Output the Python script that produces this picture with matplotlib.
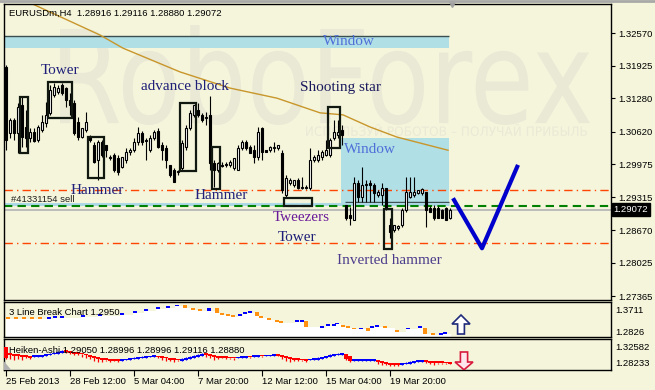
import numpy as np
import matplotlib
matplotlib.use('Agg')
import matplotlib.pyplot as plt
from matplotlib.patches import Rectangle, Polygon, PathPatch
from matplotlib.textpath import TextPath
from matplotlib.font_manager import FontProperties
from matplotlib.transforms import Affine2D, blended_transform_factory
from matplotlib.lines import Line2D

BG = '#F5F5DC'
UI_FONT = 'Liberation Sans'
SERIF = 'Liberation Serif'

# EURUSDm H4 candles
opens = [1.3190, 1.3059, 1.3085, 1.3059, 1.3115, 1.3071, 1.3049, 1.3061,
         1.3045, 1.3065, 1.3079, 1.3099, 1.3134, 1.3140, 1.3154, 1.3148,
         1.3124, 1.3118, 1.3081, 1.3051, 1.3065, 1.3051, 1.3035, 1.3006,
         1.3041, 1.3035, 1.3010, 1.3016, 1.3010, 1.2992, 1.3006, 1.3022,
         1.3025, 1.3041, 1.3059, 1.3045, 1.3025, 1.3049, 1.3063, 1.3035,
         1.3029, 1.2996, 1.2986, 1.2982, 1.2990, 1.3031, 1.3069, 1.3095,
         1.3105, 1.3095, 1.3089, 1.3095, 1.3000, 1.2986, 1.2996, 1.2998,
         1.2996, 1.2990, 1.2986, 1.3029, 1.3041, 1.3031, 1.3025, 1.3012,
         1.3069, 1.3025, 1.3025, 1.3029, 1.3029, 1.3020, 1.2936, 1.2960,
         1.2956, 1.2966, 1.2950, 1.2950, 1.2950, 1.3006, 1.3006, 1.3012,
         1.3016, 1.3016, 1.3049, 1.3055, 1.3065, 1.2917, 1.2897, 1.2887,
         1.2960, 1.2932, 1.2956, 1.2960, 1.2956, 1.2936, 1.2936, 1.2950,
         1.2877, 1.2867, 1.2871, 1.2877, 1.2907, 1.2932, 1.2936, 1.2940,
         1.2940, 1.2942, 1.2911, 1.2911, 1.2911, 1.2907, 1.2911, 1.28916]
highs = [1.3194, 1.3089, 1.3089, 1.3118, 1.3130, 1.3105, 1.3069, 1.3069,
         1.3075, 1.3095, 1.3120, 1.3154, 1.3158, 1.3154, 1.3158, 1.3150,
         1.3138, 1.3124, 1.3091, 1.3069, 1.3101, 1.3055, 1.3041, 1.3045,
         1.3045, 1.3035, 1.3016, 1.3020, 1.3016, 1.3012, 1.3029, 1.3029,
         1.3049, 1.3071, 1.3063, 1.3049, 1.3055, 1.3065, 1.3069, 1.3041,
         1.3035, 1.2996, 1.2990, 1.2986, 1.3045, 1.3075, 1.3105, 1.3115,
         1.3118, 1.3099, 1.3101, 1.3132, 1.3006, 1.3002, 1.3002, 1.3002,
         1.3006, 1.3010, 1.3035, 1.3045, 1.3045, 1.3035, 1.3035, 1.3071,
         1.3071, 1.3025, 1.3033, 1.3041, 1.3035, 1.3025, 1.2976, 1.2970,
         1.2966, 1.2970, 1.2972, 1.2956, 1.3029, 1.3016, 1.3025, 1.3025,
         1.3045, 1.3049, 1.3085, 1.3085, 1.3075, 1.2917, 1.2913, 1.2972,
         1.2966, 1.2992, 1.2966, 1.2966, 1.2960, 1.2946, 1.2960, 1.2950,
         1.2891, 1.2877, 1.2877, 1.2911, 1.2972, 1.2972, 1.2972, 1.2946,
         1.2950, 1.2942, 1.2915, 1.2917, 1.2915, 1.2909, 1.2913, 1.29116]
lows = [1.3025, 1.3049, 1.3045, 1.3020, 1.3031, 1.3031, 1.3041, 1.3041,
        1.3041, 1.3061, 1.3071, 1.3095, 1.3130, 1.3136, 1.3134, 1.3111,
        1.3095, 1.3055, 1.3045, 1.3049, 1.3061, 1.3041, 1.3000, 1.2966,
        1.3012, 1.3012, 1.3006, 1.2982, 1.2976, 1.2990, 1.3000, 1.3016,
        1.3022, 1.3035, 1.3035, 1.3006, 1.3022, 1.3045, 1.3029, 1.3006,
        1.2990, 1.2972, 1.2962, 1.2976, 1.2986, 1.3025, 1.3065, 1.3091,
        1.3091, 1.3081, 1.3075, 1.2986, 1.2952, 1.2982, 1.2992, 1.2992,
        1.2992, 1.2986, 1.2986, 1.3025, 1.3025, 1.3020, 1.3000, 1.3006,
        1.3006, 1.3022, 1.3022, 1.3022, 1.3025, 1.2940, 1.2932, 1.2956,
        1.2952, 1.2948, 1.2948, 1.2948, 1.2946, 1.3002, 1.3002, 1.3006,
        1.3014, 1.3012, 1.3045, 1.3049, 1.3035, 1.2887, 1.2877, 1.2887,
        1.2923, 1.2923, 1.2923, 1.2923, 1.2923, 1.2932, 1.2917, 1.2907,
        1.2851, 1.2863, 1.2867, 1.2873, 1.2903, 1.2930, 1.2932, 1.2938,
        1.2936, 1.2873, 1.2903, 1.2887, 1.2891, 1.2891, 1.2887, 1.28880]
closes = [1.3045, 1.3085, 1.3059, 1.3111, 1.3051, 1.3049, 1.3061, 1.3043,
          1.3071, 1.3081, 1.3095, 1.3144, 1.3150, 1.3148, 1.3138, 1.3124,
          1.3115, 1.3059, 1.3051, 1.3069, 1.3081, 1.3045, 1.3002, 1.3041,
          1.3016, 1.3025, 1.3012, 1.2986, 1.2982, 1.3012, 1.3022, 1.3025,
          1.3041, 1.3059, 1.3041, 1.3043, 1.3049, 1.3061, 1.3031, 1.3025,
          1.3006, 1.2976, 1.2962, 1.2984, 1.3039, 1.3069, 1.3099, 1.3115,
          1.3095, 1.3085, 1.3091, 1.3000, 1.2986, 1.3000, 1.2994, 1.2996,
          1.3002, 1.3010, 1.3029, 1.3041, 1.3029, 1.3020, 1.3012, 1.3061,
          1.3022, 1.3022, 1.3031, 1.3031, 1.3035, 1.2946, 1.2970, 1.2966,
          1.2966, 1.2950, 1.2952, 1.2952, 1.3006, 1.3012, 1.3016, 1.3022,
          1.3025, 1.3045, 1.3061, 1.3061, 1.3055, 1.2891, 1.2891, 1.2960,
          1.2932, 1.2956, 1.2958, 1.2956, 1.2940, 1.2942, 1.2950, 1.2911,
          1.2863, 1.2877, 1.2875, 1.2907, 1.2942, 1.2942, 1.2942, 1.2946,
          1.2948, 1.2907, 1.2903, 1.2891, 1.2891, 1.2891, 1.2887, 1.29072]

# moving average line (bar index, value)
ma_idx = [3.5, 6.75, 23.5, 29.25, 43.5, 56, 67.75, 78.5, 84.25, 91, 97.75, 110.5]
ma_val = [1.3326, 1.3314, 1.3253, 1.3227, 1.3180, 1.3148, 1.3128, 1.3099,
          1.3095, 1.3071, 1.3051, 1.3025]

# levels
res_level = 1.2946
sup_level = 1.2841
order_level = 1.2914
order_band = 1.2919
bid = 1.29072
main_ticks = [1.32570, 1.31925, 1.31280, 1.30620, 1.29975, 1.29315,
              1.28670, 1.28025, 1.27365]

# "Window" zones: left bar, right bar, top, bottom
windows = [(-0.5, 110.75, 1.3249, 1.3227), (83.75, 110.75, 1.3049, 1.2921)]
window_edges = [(-0.5, 110.75, 1.3251), (84.75, 110.75, 1.2922)]

# pattern boxes: first bar, last bar, top, bottom
boxes = [(4, 5, 1.3130, 1.3020), (11, 16, 1.3160, 1.3089),
         (21, 24, 1.3051, 1.2970), (44, 47, 1.3118, 1.2984),
         (52, 53, 1.3031, 1.2948), (70, 76, 1.2930, 1.2915),
         (81, 83, 1.3111, 1.3029), (95, 96, 1.2909, 1.2829)]

# pattern labels: text, bar, price, colour
labels = [('Tower', 13.5, 1.3182, '#20207A'),
          ('advance block', 44.75, 1.3152, '#1E1E78'),
          ('Shooting star', 83.75, 1.3150, '#1A1A5E'),
          ('Hammer', 22.75, 1.2946, '#20207A'),
          ('Hammer', 53.75, 1.2936, '#20207A'),
          ('Tweezers', 73.75, 1.2891, '#6A1B9A'),
          ('Tower', 72.75, 1.2853, '#1E1E78'),
          ('Inverted hammer', 95.75, 1.2806, '#4B3C8C'),
          ('Window', 85.75, 1.3241, '#4F6FD8'),
          ('Window', 91.0, 1.3027, '#4F6FD8')]

# forecast V
v_idx = [111.75, 119, 128]
v_val = [1.2930, 1.2831, 1.2996]

# 3 Line Break segments: bar, top, bottom, colour
lb_idx = [0.5, 2.5, 4.5, 6.5, 8.5, 10.75, 12.25, 14, 19.25, 23.5, 29, 32.25,
          35, 38, 40.5, 42.75, 44.75, 46.75, 48.5, 50.75, 52.75, 54, 55.5,
          56.75, 58.5, 59.75, 61, 62.75, 63.75, 65.75, 67.75, 68.75, 72.75,
          74, 75, 79, 80.5, 82, 82.75, 84.25, 85.5, 87, 88.75, 90.5, 91.5,
          92.75, 94.75, 97.75, 100.5, 103.5, 104.75, 106.75, 108.75, 109.75]
lb_top = [1.3369, 1.3369, 1.3369, 1.3369, 1.3369, 1.3409, 1.3409, 1.3409,
          1.3449, 1.3490, 1.3530, 1.3610, 1.3691, 1.3771, 1.3811, 1.3852,
          1.3872, 1.3731, 1.3691, 1.3751, 1.3751, 1.3530, 1.3490, 1.3449,
          1.3490, 1.3570, 1.3610, 1.3590, 1.3409, 1.3329, 1.3248, 1.3208,
          1.3269, 1.3248, 1.3228, 1.3007, 1.3087, 1.3087, 1.3128, 1.3047,
          1.3007, 1.2927, 1.2927, 1.2967, 1.3007, 1.3047, 1.3047, 1.2846,
          1.2927, 1.3007, 1.2967, 1.2725, 1.2725, 1.2766]
lb_bot = [1.3329, 1.3329, 1.3329, 1.3329, 1.3329, 1.3309, 1.3369, 1.3369,
          1.3409, 1.3449, 1.3490, 1.3570, 1.3651, 1.3731, 1.3771, 1.3812,
          1.3751, 1.3691, 1.3651, 1.3631, 1.3550, 1.3490, 1.3449, 1.3409,
          1.3449, 1.3530, 1.3570, 1.3429, 1.3369, 1.3289, 1.3208, 1.3168,
          1.3188, 1.3208, 1.2987, 1.2967, 1.3047, 1.3047, 1.3088, 1.3007,
          1.2967, 1.2887, 1.2887, 1.2846, 1.2967, 1.3007, 1.2927, 1.2806,
          1.2887, 1.2967, 1.2725, 1.2685, 1.2685, 1.2725]
lb_col = ['o', 'o', 'o', 'o', 'o', 'b', 'b', 'b', 'b', 'b', 'b', 'b',
          'b', 'b', 'b', 'b', 'o', 'o', 'o', 'b', 'o', 'o', 'o', 'o',
          'b', 'b', 'b', 'o', 'o', 'o', 'o', 'o', 'b', 'b', 'o', 'b',
          'b', 'b', 'b', 'o', 'o', 'o', 'b', 'o', 'b', 'b', 'o', 'o',
          'b', 'b', 'o', 'o', 'b', 'b']

# Heiken-Ashi (open, close, wick end) per bar
ha_open = [1.3250, 1.3087, 1.3060, 1.3033, 1.3033, 1.3005, 1.3005, 1.2978,
           1.2978, 1.2990, 1.3005, 1.3020, 1.3047, 1.3073, 1.3100, 1.3141,
           1.3127, 1.3114, 1.3087, 1.3073, 1.3060, 1.3033, 1.2995, 1.2965,
           1.2924, 1.2910, 1.2910, 1.2897, 1.2897, 1.2883, 1.2890, 1.2905,
           1.2917, 1.2931, 1.2944, 1.2958, 1.2965, 1.2975, 1.2992, 1.2978,
           1.2965, 1.2951, 1.2924, 1.2910, 1.2883, 1.2905, 1.2931, 1.2958,
           1.2985, 1.3010, 1.3087, 1.3060, 1.3033, 1.2992, 1.2978, 1.2965,
           1.2958, 1.2951, 1.2944, 1.2951, 1.2958, 1.2985, 1.2978, 1.2985,
           1.3005, 1.2995, 1.3000, 1.3005, 1.3020, 1.3012, 1.2992, 1.2965,
           1.2938, 1.2917, 1.2905, 1.2897, 1.2890, 1.2897, 1.2910, 1.2931,
           1.2951, 1.2978, 1.3005, 1.3026, 1.3040, 1.3073, 1.2992, 1.2869,
           1.2880, 1.2883, 1.2883, 1.2880, 1.2883, 1.2883, 1.2856, 1.2828,
           1.2801, 1.2788, 1.2781, 1.2767, 1.2781, 1.2801, 1.2822, 1.2842,
           1.2849, 1.2856, 1.2856, 1.2842, 1.2828, 1.2822, 1.2815, 1.2811]
ha_close = [1.2951, 1.3033, 1.3005, 1.3005, 1.2978, 1.2978, 1.2951, 1.2995,
            1.2995, 1.3010, 1.3033, 1.3060, 1.3087, 1.3114, 1.3141, 1.3114,
            1.3100, 1.3073, 1.3060, 1.3047, 1.3020, 1.2978, 1.2951, 1.2924,
            1.2897, 1.2897, 1.2883, 1.2883, 1.2869, 1.2897, 1.2910, 1.2924,
            1.2938, 1.2951, 1.2965, 1.2978, 1.2985, 1.2992, 1.2965, 1.2951,
            1.2938, 1.2910, 1.2897, 1.2890, 1.2924, 1.2951, 1.2978, 1.3005,
            1.3033, 1.3060, 1.3020, 1.2992, 1.2965, 1.2951, 1.2958, 1.2951,
            1.2944, 1.2938, 1.2965, 1.2971, 1.2978, 1.2971, 1.2992, 1.3005,
            1.2992, 1.3010, 1.3012, 1.3020, 1.3005, 1.2978, 1.2951, 1.2924,
            1.2910, 1.2897, 1.2890, 1.2883, 1.2910, 1.2924, 1.2944, 1.2965,
            1.2992, 1.3020, 1.3047, 1.3060, 1.3073, 1.2924, 1.2869, 1.2897,
            1.2897, 1.2890, 1.2890, 1.2890, 1.2890, 1.2842, 1.2815, 1.2801,
            1.2774, 1.2774, 1.2761, 1.2801, 1.2828, 1.2842, 1.2856, 1.2856,
            1.2856, 1.2849, 1.2828, 1.2815, 1.2815, 1.2815, 1.2808, 1.2801]
ha_wick = [1.2924, 1.2924, 1.2897, 1.2924, 1.2897, 1.2951, 1.2924, 1.3005,
           1.3020, 1.3033, 1.3060, 1.3087, 1.3114, 1.3141, 1.3169, 1.3087,
           1.3060, 1.3033, 1.3020, 1.2978, 1.2951, 1.2924, 1.2869, 1.2842,
           1.2842, 1.2869, 1.2842, 1.2869, 1.2842, 1.2910, 1.2924, 1.2938,
           1.2965, 1.2978, 1.2992, 1.3005, 1.3005, 1.3020, 1.2938, 1.2910,
           1.2883, 1.2869, 1.2842, 1.2869, 1.2938, 1.2965, 1.2992, 1.3020,
           1.3060, 1.3087, 1.2978, 1.2951, 1.2897, 1.2924, 1.2938, 1.2924,
           1.2924, 1.2910, 1.2978, 1.2992, 1.2992, 1.2951, 1.3005, 1.3020,
           1.2978, 1.3026, 1.3026, 1.3033, 1.2992, 1.2924, 1.2869, 1.2842,
           1.2869, 1.2856, 1.2856, 1.2842, 1.2924, 1.2951, 1.2965, 1.2978,
           1.3005, 1.3047, 1.3073, 1.3087, 1.3087, 1.2897, 1.2842, 1.2910,
           1.2924, 1.2910, 1.2910, 1.2897, 1.2897, 1.2801, 1.2761, 1.2761,
           1.2733, 1.2733, 1.2733, 1.2815, 1.2842, 1.2869, 1.2869, 1.2869,
           1.2869, 1.2828, 1.2788, 1.2774, 1.2788, 1.2801, 1.2801, 1.2795]

date_idx = [0, 16, 32, 48, 64, 80, 96]
date_labels = ['25 Feb 2013', '28 Feb 12:00', '5 Mar 04:00', '7 Mar 20:00',
               '12 Mar 12:00', '15 Mar 04:00', '19 Mar 20:00']

W, H = 655, 390
fig = plt.figure(figsize=(W / 100, H / 100), dpi=100, facecolor=BG)
L, R = 4, 611
ax = fig.add_axes([L / W, 1 - 300 / H, (R - L) / W, 296 / H])
ax1 = fig.add_axes([L / W, 1 - 337 / H, (R - L) / W, 35 / H], sharex=ax)
ax2 = fig.add_axes([L / W, 1 - 370 / H, (R - L) / W, 31 / H], sharex=ax)
for a in (ax, ax1, ax2):
    a.set_facecolor('none')
    for s in a.spines.values():
        s.set_color('black')
        s.set_linewidth(1)
    a.yaxis.tick_right()

# watermark
def stretched_text(s, x0, y0, x1, y1, color):
    tp = TextPath((0, 0), s, size=10, prop=FontProperties(family='DejaVu Sans'))
    bb = tp.get_extents()
    tr = (Affine2D().translate(-bb.x0, -bb.y0)
          .scale((x1 - x0) / bb.width, (y1 - y0) / bb.height)
          .translate(x0, H - y1)
          + Affine2D().scale(1 / W, 1 / H) + fig.transFigure)
    fig.add_artist(PathPatch(tp, transform=tr, fc=color, ec='none', zorder=-1))

stretched_text('RoboForex', 60, 25, 590, 125, '#E9E9D5')
stretched_text('ИСПОЛЬЗУЙ РОБОТОВ – ПОЛУЧАЙ ПРИБЫЛЬ', 306, 124, 587, 136, '#E9E9D6')
fig.add_artist(Line2D([0, 1], [1 - 1 / H] * 2, transform=fig.transFigure,
                      color='#A8A8A8', lw=2))

# ---- main chart ----
x = np.arange(len(opens))
o, h, l, c = map(np.array, (opens, highs, lows, closes))

for (x0, x1, top, bot) in windows:
    ax.add_patch(Rectangle((x0, bot), x1 - x0, top - bot, fc='#B0DFE6', ec='none', zorder=1))
for (x0, x1, yv) in window_edges:
    ax.hlines(yv, x0, x1, color='#3A5050', lw=1, zorder=1.5)
ax.hlines(order_band, -0.5, 110.75, color='#ADD8E6', lw=2.2, zorder=1.5)

ax.axhline(res_level, color='#FF4500', lw=1, ls=(0, (6, 3, 1, 3)), zorder=2)
ax.axhline(sup_level, color='#FF4500', lw=1, ls=(0, (6, 3, 1, 3)), zorder=2)
ax.axhline(order_level, color='#008000', lw=1.5, ls=(0, (4, 2.5)), zorder=2)
ax.axhline(bid, color='#B8B8B8', lw=1.3, zorder=2)

ax.plot(ma_idx, ma_val, color='#C8962A', lw=1, zorder=2.5)

up = c >= o
ax.vlines(x, l, h, color='black', lw=0.8, zorder=3)
ax.bar(x, np.maximum(np.abs(c - o), 0.00005), bottom=np.minimum(o, c), width=0.62,
       color=np.where(up, 'white', 'black'), edgecolor='black', linewidth=0.8, zorder=4)

for (b0, b1, top, bot) in boxes:
    ax.add_patch(Rectangle((b0 - 0.5, bot), b1 - b0 + 1, top - bot, fill=False,
                           ec='#101810', lw=1.6, zorder=5))

for (txt, bx, py, col) in labels:
    ax.text(bx, py, txt, color=col, fontsize=11, family=SERIF, ha='center',
            va='center', zorder=6)

ax.plot(v_idx, v_val, color='#0000CD', lw=3, solid_capstyle='butt', zorder=6)

ax.text(1.25, order_band, '#41331154 sell', fontsize=6.8, family=UI_FONT,
        color='#202020', va='bottom', ha='left', zorder=6)
ax.text(0.008, 0.969, 'EURUSDm,H4  1.28916 1.29116 1.28880 1.29072',
        transform=ax.transAxes, fontsize=6.8, family=UI_FONT, color='black',
        va='center', ha='left')
ax.plot([111.5], [1.0], marker='v', ms=5, color='#A0A0A0',
        transform=blended_transform_factory(ax.transData, ax.transAxes),
        clip_on=False, zorder=6)

ax.set_xlim(-0.5, 151.25)
ax.set_ylim(1.27286, 1.33144)
ax.set_yticks(main_ticks)
ax.set_yticklabels([f'{v:.5f}' for v in main_ticks])
ax.tick_params(axis='y', direction='out', length=3, width=0.8, pad=2,
               labelsize=6.8, colors='black')
for t in ax.get_yticklabels():
    t.set_family(UI_FONT)
ax.tick_params(axis='x', bottom=False, labelbottom=False)
ax.text(1.004, bid, f'{bid:.5f}', transform=blended_transform_factory(ax.transAxes, ax.transData),
        color='white', fontsize=6.8, family=UI_FONT, va='center', ha='left',
        bbox=dict(boxstyle='square,pad=0.2', fc='black', ec='black'), clip_on=False)

# ---- 3 Line Break ----
ax1_bottom = 1.2585
lb_x = np.array(lb_idx)
lb_t = np.array(lb_top)
lb_b = np.array(lb_bot)
fill_x = np.append(lb_x - 0.45, 111.2)
fill_y = np.append(lb_b, lb_b[-1])
ax1.fill_between(fill_x, fill_y, ax1_bottom, step='post', color='white', lw=0, zorder=1)
lb_colors = ['#0000FF' if k == 'b' else '#FF9010' for k in lb_col]
ax1.bar(lb_x, np.maximum(lb_t - lb_b, 0.0075), bottom=lb_b, width=0.95,
        color=lb_colors, lw=0, zorder=2)
up_arrow = [(113.75, 1.3470), (116.0, 1.3108), (114.6, 1.3108), (114.6, 1.2705),
            (112.9, 1.2705), (112.9, 1.3108), (111.5, 1.3108)]
ax1.add_patch(Polygon(up_arrow, closed=True, fc='white', ec='#1F2A7A', lw=1.2, zorder=3))
ax1.set_ylim(ax1_bottom, 1.3993)
ax1.set_yticks([1.3711, 1.2826])
ax1.set_yticklabels(['1.3711', '1.2826'])
ax1.text(0.008, 0.714, '3 Line Break Chart 1.2950', transform=ax1.transAxes,
         fontsize=6.8, family=UI_FONT, va='center', ha='left', zorder=4)
ax1.tick_params(axis='x', bottom=False, labelbottom=False)

# ---- Heiken-Ashi ----
ho, hc, hw = map(np.array, (ha_open, ha_close, ha_wick))
ha_up = hc >= ho
ha_colors = np.where(ha_up, '#0000FF', '#FF0000')
ax2.vlines(x, np.minimum(np.minimum(ho, hc), hw), np.maximum(np.maximum(ho, hc), hw),
           colors=ha_colors, lw=0.9, zorder=2)
ax2.bar(x, np.maximum(np.abs(hc - ho), 0.0045), bottom=np.minimum(ho, hc), width=0.8,
        color=ha_colors, lw=0, zorder=3)
down_arrow = [(114.5, 1.2630), (116.75, 1.2842), (115.4, 1.2842), (115.4, 1.3114),
              (113.6, 1.3114), (113.6, 1.2842), (112.25, 1.2842)]
ax2.add_patch(Polygon(down_arrow, closed=True, fc='#FFE8EC', ec='#D81B3C', lw=1.2, zorder=3))
ax2.add_patch(Polygon([(0, 0), (0.012, 0), (0, 0.28)], closed=True, transform=ax2.transAxes,
                      fc='#B0B0B0', ec='none', zorder=3))
ax2.set_ylim(1.2625, 1.3467)
ax2.set_yticks([1.32582, 1.28233])
ax2.set_yticklabels(['1.32582', '1.28233'])
ax2.text(0.008, 0.613, 'Heiken-Ashi 1.29050 1.28996 1.28996 1.29116 1.28880',
         transform=ax2.transAxes, fontsize=6.8, family=UI_FONT, va='center',
         ha='left', zorder=4)
for a in (ax1, ax2):
    a.tick_params(axis='y', length=0, pad=3, labelsize=6.8)
    for t in a.get_yticklabels():
        t.set_family(UI_FONT)

ax2.set_xticks(date_idx)
ax2.set_xticklabels(date_labels, ha='left', fontsize=6.8, family=UI_FONT)
ax2.tick_params(axis='x', direction='out', length=4, width=0.8, pad=1)
ax2.set_xlim(-0.5, 151.25)

fig.savefig('out.png', dpi=100, facecolor=BG)
